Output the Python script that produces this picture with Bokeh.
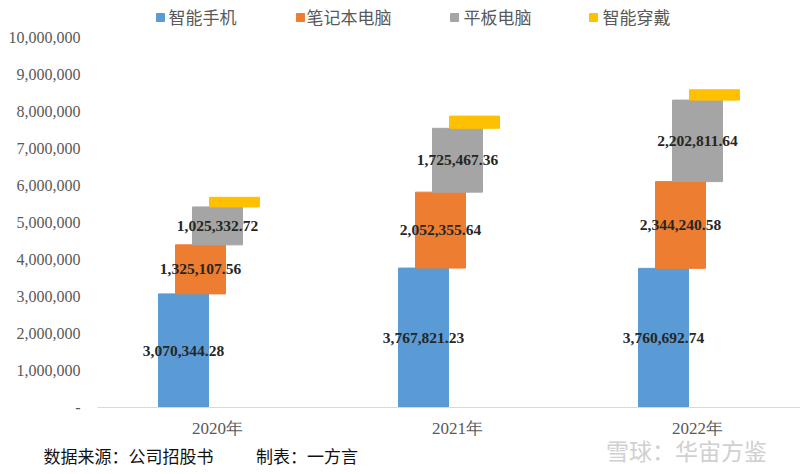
import numpy as np
from bokeh.plotting import figure
from bokeh.layouts import column
from bokeh.models import Range1d, FixedTicker, ColumnDataSource, LabelSet, NumeralTickFormatter, Title, Div
from bokeh.embed import file_html
from bokeh.resources import INLINE
from bokeh.core.properties import value

# ---------------- data ----------------
years = ["2020年", "2021年", "2022年"]
series_names = ["智能手机", "笔记本电脑", "平板电脑", "智能穿戴"]
smartphone = [3070344.28, 3767821.23, 3760692.74]
laptop = [1325107.56, 2052355.64, 2344240.58]
tablet = [1025332.72, 1725467.36, 2202811.64]
wearable = [260000, 330000, 280000]   # not labelled in source
y_ticks = [0, 1000000, 2000000, 3000000, 4000000, 5000000, 6000000, 7000000, 8000000, 9000000, 10000000]
colors = ["#5B9BD5", "#ED7D31", "#A5A5A5", "#FFC000"]
footer_left = "数据来源：公司招股书"
footer_right = "制表：一方言"
watermark = "雪球：华宙方鉴"

# ---------------- layout helpers ----------------
W, H = 800, 474
LEFT, BOTTOM_PX = 97, 407         # frame left / frame bottom inside figure
PX_PER_CAT = 240.0
frame_w = W - LEFT
y_end = 1e7 * BOTTOM_PX / 370.0

def sx(px):   # screenshot x -> data x
    return (px - LEFT) / PX_PER_CAT

def sy(py):   # screenshot y -> data y
    return (BOTTOM_PX - py) / 370.0 * 1e7

p = figure(width=W, height=H, output_backend="svg", toolbar_location=None,
           x_range=Range1d(0, frame_w / PX_PER_CAT), y_range=Range1d(0, y_end),
           min_border_left=LEFT, min_border_right=0, min_border_top=0,
           min_border_bottom=H - BOTTOM_PX)
p.outline_line_color = None
p.grid.visible = False
p.background_fill_color = "white"
p.border_fill_color = "white"

series = [smartphone, laptop, tablet, wearable]
offsets = [-2, -1, 0, 1]
step = 17 / PX_PER_CAT
bar_w = 50 / PX_PER_CAT
centers = np.arange(len(years)) + 0.5
bottom = np.zeros(len(years))
for i, vals in enumerate(series):
    vals = np.array(vals, dtype=float)
    top = bottom + vals
    src = ColumnDataSource(dict(
        x=centers + offsets[i] * step, bottom=bottom.copy(), top=top,
        mid=(bottom + top) / 2, txt=[f"{v:,.2f}" for v in vals]))
    p.vbar(x="x", bottom="bottom", top="top", width=bar_w, source=src,
           fill_color=colors[i], line_color=colors[i])
    if i < 3:
        p.add_layout(LabelSet(x="x", y="mid", text="txt", source=src,
                              text_align="center", text_baseline="middle",
                              text_font=value("Liberation Serif"), text_font_style="bold",
                              text_font_size="15.5px", text_color="#262626"))
    bottom = top

# axes
p.xaxis.ticker = FixedTicker(ticks=list(centers))
p.xaxis.major_label_overrides = {float(c): y for c, y in zip(centers, years)}
p.xaxis.axis_line_color = "#D9D9D9"
p.xaxis.major_tick_line_color = None
p.xaxis.minor_tick_line_color = None
p.xaxis.major_tick_out = 0
p.xaxis.major_tick_in = 0
p.xaxis.major_label_standoff = 11
p.xaxis.major_label_text_font = "Liberation Serif"
p.xaxis.major_label_text_font_size = "17px"
p.xaxis.major_label_text_color = "#595959"

p.yaxis.ticker = FixedTicker(ticks=y_ticks)
p.yaxis.formatter = NumeralTickFormatter(format="0,0")
p.yaxis.major_label_overrides = {0: "-"}
p.yaxis.axis_line_color = None
p.yaxis.major_tick_line_color = None
p.yaxis.minor_tick_line_color = None
p.yaxis.major_tick_out = 0
p.yaxis.major_tick_in = 0
p.yaxis.major_label_standoff = 17
p.yaxis.major_label_text_font = "Liberation Serif"
p.yaxis.major_label_text_font_size = "16px"
p.yaxis.major_label_text_color = "#595959"

# legend (manual, top row)
leg_sq_px = [160, 300, 454, 593]
leg_tx_px = [168, 306, 463, 602]
p.scatter(x=[sx(v) for v in leg_sq_px], y=[sy(17)] * 4, marker="square", size=8,
          fill_color=colors, line_color=colors)
p.text(x=[sx(v) for v in leg_tx_px], y=[sy(15.5)] * 4, text=series_names,
       text_font=value("Noto Sans CJK SC"), text_font_size="17px",
       text_color="#595959", text_align="left", text_baseline="middle")

# footer as a title below the plot
foot = Title(text=footer_left + "\u3000\u3000\u2002" + footer_right, align="left",
             offset=43 - LEFT, text_font="Noto Sans CJK SC", text_font_size="17px",
             text_font_style="normal", text_color="#111111", standoff=0)
p.add_layout(foot, "below")

# watermark (overlaid at the bottom right)
wm = Div(text=watermark, width=200, height=30, margin=(-40, 0, 0, 606),
         styles={"color": "#C8C8C8", "font-size": "23px",
                 "font-family": "Noto Sans CJK SC", "opacity": "0.85",
                 "white-space": "nowrap"})
layout = column(p, wm, spacing=0)

open("out.html", "w").write(file_html(layout, INLINE))
